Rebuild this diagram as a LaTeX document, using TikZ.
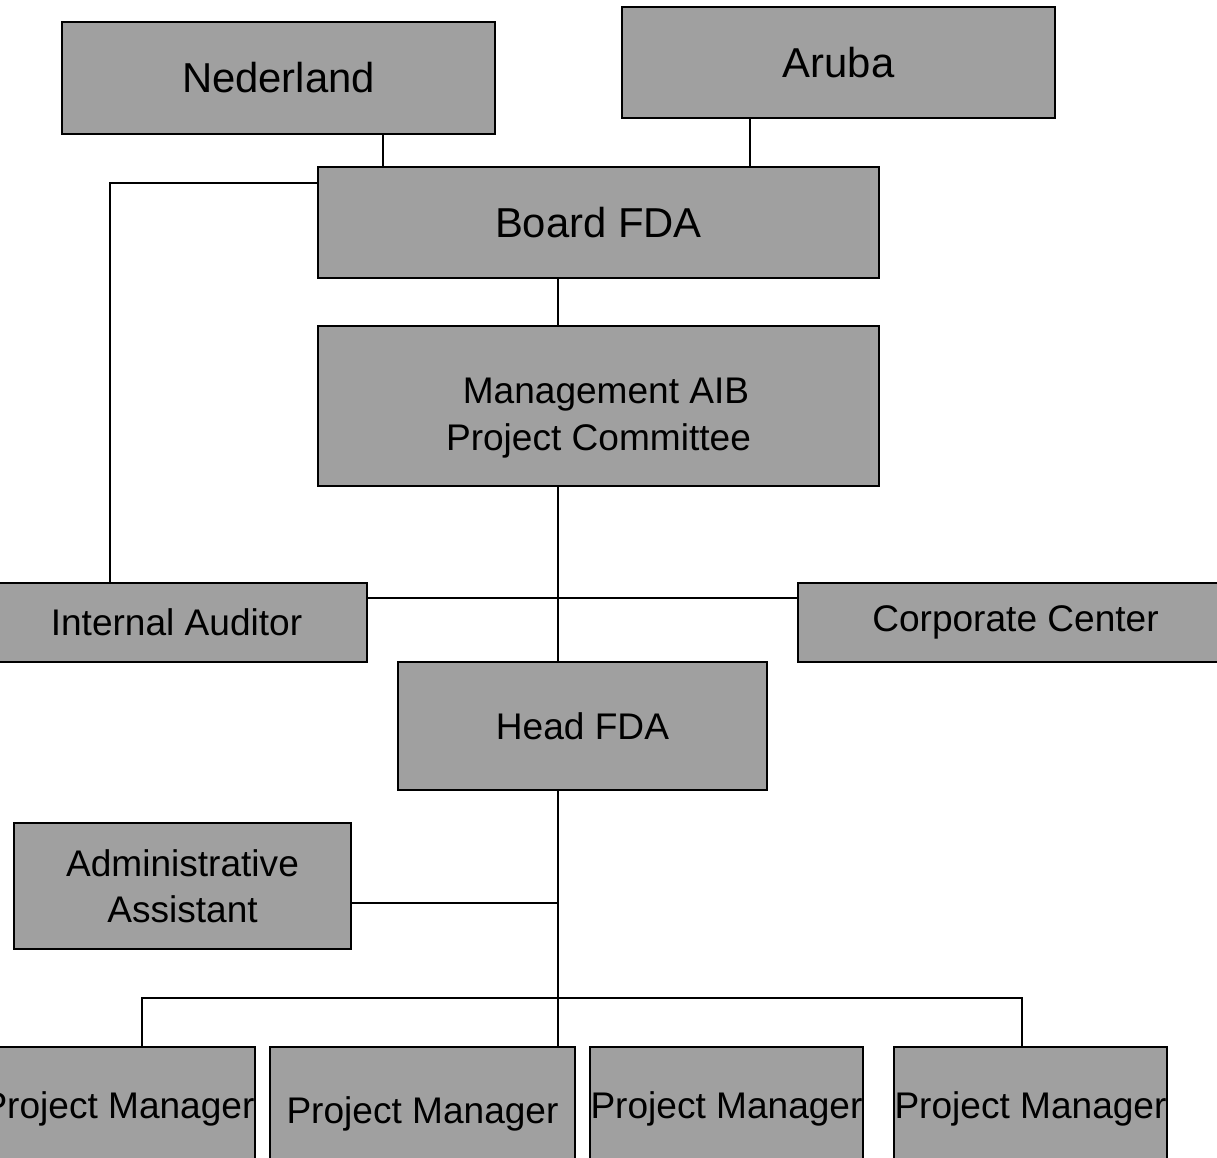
\documentclass[tikz,border=0pt]{standalone}
\usepackage{fontspec}
\setmainfont{Liberation Sans}
\definecolor{boxgray}{RGB}{160,160,160}
\newcommand{\lowertext}[2]{\raisebox{-#1}[\height][\depth]{#2}}
\tikzset{
  unit/.style={draw=black, line width=0.9pt, fill=boxgray, inner sep=0pt,
    align=center, font=\fontsize{21.1pt}{26pt}\selectfont},
  bigunit/.style={unit, font=\fontsize{23.8pt}{28pt}\selectfont},
  link/.style={line width=0.8pt}
}
\begin{document}
\begin{tikzpicture}[x=0.02cm, y=-0.02cm]
            \useasboundingbox (0,0) rectangle (1217,1158);

            \node [bigunit, minimum width=8.66cm, minimum height=2.24cm] (ned) at (278.5,78) {Nederland};
            \node [bigunit, minimum width=8.66cm, minimum height=2.22cm] (aru) at (838.5,62.5) {Aruba};
            \node [bigunit, minimum width=11.22cm, minimum height=2.22cm] (board) at (598.5,222.5) {Board FDA};
            \node [unit, minimum width=11.22cm, minimum height=3.2cm] (mgmt) at (598.5,406)
              {\lowertext{0.24cm}{\begin{tabular}{@{}c@{}}\hspace*{0.3cm}Management AIB\\[1pt]Project Committee\end{tabular}}};
            \node [unit, minimum width=7.38cm, minimum height=1.58cm] (aud) at (182.5,622.5) {Internal Auditor\hspace*{0.24cm}};
            \node [unit, minimum width=8.42cm, minimum height=1.58cm] (cc) at (1008.5,622.5) {\hspace*{0.28cm}Corporate Center};
            \node [unit, minimum width=7.38cm, minimum height=2.56cm] (head) at (582.5,726) {Head FDA};
            \node [unit, minimum width=6.74cm, minimum height=2.52cm] (admin) at (182.5,886) {Administrative\\Assistant};

            \node [unit, minimum width=5.46cm, minimum height=2.26cm] (pm1) at (118.5,1103.5) {\makebox[0pt]{\lowertext{0.1cm}{Project Manager}}};
            \node [unit, minimum width=6.1cm, minimum height=2.26cm] (pm2) at (422.5,1103.5) {\makebox[0pt]{\lowertext{0.2cm}{Project Manager}}};
            \node [unit, minimum width=5.46cm, minimum height=2.26cm] (pm3) at (726.5,1103.5) {\makebox[0pt]{\lowertext{0.1cm}{Project Manager}}};
            \node [unit, minimum width=5.46cm, minimum height=2.26cm] (pm4) at (1030.5,1103.5) {\makebox[0pt]{\lowertext{0.1cm}{Project Manager}}};

            \coordinate (nedx) at (383,0);
            \coordinate (arux) at (750,0);
            \coordinate (spine) at (558,0);
            \coordinate (audx) at (110,183);
            \coordinate (midy) at (0,598);
            \coordinate (admy) at (0,903);
            \coordinate (bary) at (0,998);
            \coordinate (pm1x) at (142,0);
            \coordinate (pm4x) at (1022,0);

            \draw [link] (ned.south -| nedx) -- (board.north -| nedx);
            \draw [link] (aru.south -| arux) -- (board.north -| arux);
            \draw [link] (board.west |- audx) -- (audx) -- (aud.north -| audx);
            \draw [link] (board.south -| spine) -- (mgmt.north -| spine);
            \draw [link] (mgmt.south -| spine) -- (head.north -| spine);
            \draw [link] (aud.east |- midy) -- (cc.west |- midy);
            \draw [link] (head.south -| spine) -- (pm2.north -| spine);
            \draw [link] (admin.east |- admy) -- (spine |- admy);
            \draw [link] (pm1.north -| pm1x) -- (pm1x |- bary) -- (pm4x |- bary) -- (pm4.north -| pm4x);
        \end{tikzpicture}
\end{document}
